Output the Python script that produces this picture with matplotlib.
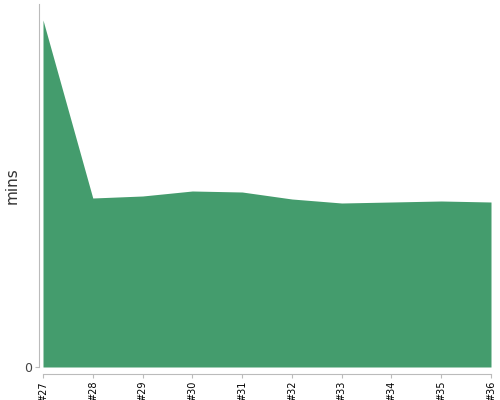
import matplotlib
matplotlib.use("Agg")
import matplotlib.pyplot as plt

# builds and their durations (mins)
builds = ["#27", "#28", "#29", "#30", "#31", "#32", "#33", "#34", "#35", "#36"]
mins = [34.7, 16.9, 17.1, 17.6, 17.5, 16.8, 16.4, 16.5, 16.6, 16.5]

fig = plt.figure(figsize=(5, 4), dpi=100)
ax = fig.add_axes([0.086, 0.0825, 0.896, 0.9075])

x = list(range(len(builds)))
ax.fill_between(x, 0, mins, color="#449c6d", linewidth=0)

ax.set_xlim(0, len(builds) - 1)
ax.set_ylim(0, 36.3)
ax.set_xticks(x)
ax.set_xticklabels(builds)
ax.set_yticks([0])
ax.set_yticklabels(["0"])

for side in ["top", "right"]:
    ax.spines[side].set_visible(False)
ax.spines["left"].set_position(("outward", 3))
ax.spines["bottom"].set_position(("outward", 5))
ax.spines["left"].set_color("#bbbbbb")
ax.spines["bottom"].set_color("#bbbbbb")
ax.tick_params(axis="x", length=3, color="#bbbbbb", pad=2,
               labelrotation=90, labelsize=7, labelcolor="black")
ax.tick_params(axis="y", length=3, color="#bbbbbb", pad=2,
               labelsize=9, labelcolor="#444444")

ax.set_ylabel("mins", fontsize=11, color="#333333", labelpad=3)

fig.savefig("out.png", dpi=100)
